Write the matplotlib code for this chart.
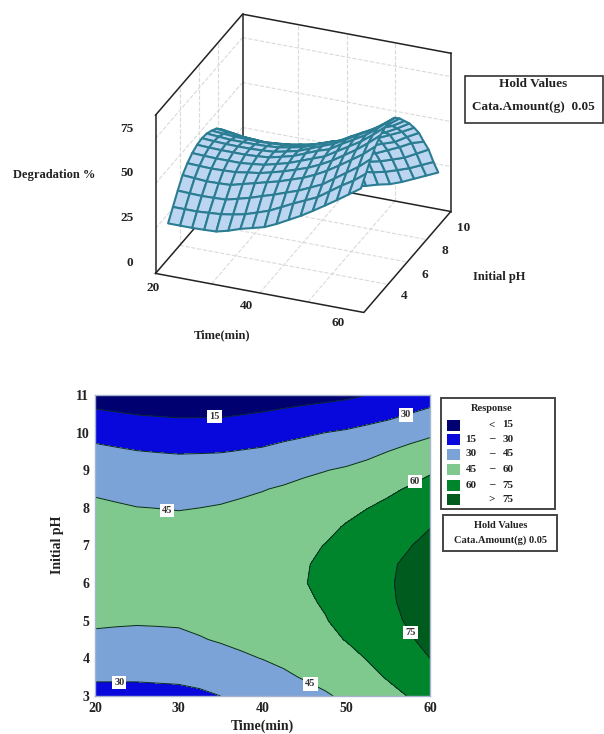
import numpy as np
import matplotlib
matplotlib.use('Agg')
import matplotlib.pyplot as plt
from matplotlib.patches import Rectangle

W, H = 604, 734

## Values
time_min = [20, 22.5, 25, 27.5, 30, 32.5, 35, 37.5, 40, 42.5, 45, 47.5, 50, 52.5, 55, 57.5, 60]
ph_values = [3, 3.5, 4, 4.5, 5, 5.5, 6, 6.5, 7, 7.5, 8, 8.5, 9, 9.5, 10, 10.5, 11]
deg_20 = [25.5, 31.5, 37.5, 43, 46.5, 49, 50.5, 51, 50.5, 49, 47, 43.5, 38, 33, 26, 17.5, 8]
deg_22 = [25.5, 31.5, 37.2, 42.5, 46.2, 48.7, 50.2, 50.6, 50, 48.5, 46.1, 42.5, 37.5, 31.6, 24.7, 16, 6.5]
deg_25 = [25.5, 31.5, 37, 42, 46, 48.5, 50, 50.3, 49.5, 48, 45.2, 41.5, 37, 30.3, 23.5, 14.5, 5]
deg_27 = [25.7, 32, 37.2, 42.2, 46.2, 48.5, 50, 50.2, 49.5, 47.9, 44.9, 41, 36.5, 29.6, 23, 13.7, 4]
deg_30 = [26, 32.5, 37.5, 42.5, 46.5, 48.5, 50, 50.2, 49.5, 47.8, 44.5, 40.5, 36, 29, 22.5, 13, 3]
deg_32 = [27.7, 33.6, 39.2, 44.3, 47.6, 49.2, 50.4, 50.5, 49.8, 48.1, 45, 41.2, 36.2, 29.2, 22.7, 13, 3]
deg_35 = [30, 35, 41, 46, 48.5, 50, 51, 51, 50.3, 48.5, 45.7, 42, 36.5, 29.5, 23, 13, 3]
deg_37 = [31.7, 37.2, 43.2, 47.8, 50.2, 51.7, 52.6, 52.4, 51.6, 49.7, 46.9, 43.2, 37.2, 30.5, 24, 14.5, 4.5]
deg_40 = [33.5, 39.5, 45.3, 49.5, 52, 53.5, 54.3, 54, 53, 51, 48.2, 44.5, 38, 31.5, 25, 16, 6]
deg_42 = [36.5, 42.7, 47.7, 51.8, 54.2, 56, 57, 56.6, 55.5, 53.2, 50.2, 46.2, 40.5, 33.7, 26.5, 18, 7.5]
deg_45 = [40, 46, 50, 54, 56.5, 58.5, 59.7, 59.3, 58, 55.5, 52.5, 48, 43, 36, 28, 20, 9]
deg_47 = [43.5, 49, 53, 57, 59.5, 61, 61.8, 61.8, 60.3, 57.5, 54, 49.5, 44.7, 37.5, 30, 21, 11]
deg_50 = [47.5, 52, 56, 60.5, 63, 65, 66, 65.5, 64, 60.8, 57, 52, 46.5, 39, 31.5, 22.5, 12.5]
deg_52 = [51.7, 56.5, 60.5, 64.7, 67.2, 69, 69.7, 69.2, 67.5, 64.4, 59.8, 55, 48.7, 42, 33.7, 24.7, 15]
deg_55 = [56, 61, 65, 69, 71.5, 73, 73.5, 73, 71, 68, 62.5, 58, 51, 45, 36, 27, 18]
deg_57 = [60.5, 65, 69.5, 73.5, 76.5, 78, 78.5, 77.5, 74.3, 70.5, 66, 61, 55, 48.5, 39.5, 30, 21]
deg_60 = [65, 70, 75, 79, 82, 83.5, 84, 82.5, 79, 74.5, 70, 64.5, 58.5, 50.5, 43, 33, 24]

levels = [0, 15, 30, 45, 60, 75, 100]
band_colors = ['#000070', '#0808dc', '#7ba3d8', '#80c98e', '#00842c', '#005c1e']
band_low = ['', '15', '30', '45', '60', '']
band_sign = ['<', '\u2013', '\u2013', '\u2013', '\u2013', '>']
band_high = ['15', '30', '45', '60', '75', '75']

label_text = ['15', '30', '60', '45', '75', '45', '30']
label_t = [34.3, 57.1, 58.2, 28.6, 57.7, 45.7, 22.9]
label_ph = [10.42, 10.47, 8.7, 7.94, 4.68, 3.32, 3.35]

z_ticks = [0, 25, 50, 75]
time_ticks_3d = [20, 40, 60]
ph_ticks_3d = [4, 6, 8, 10]

z_table = np.array([deg_20, deg_22, deg_25, deg_27, deg_30, deg_32, deg_35, deg_37, deg_40,
					deg_42, deg_45, deg_47, deg_50, deg_52, deg_55, deg_57, deg_60]).T
T, P = np.meshgrid(time_min, ph_values)

plt.rcParams['font.family'] = ['Liberation Serif', 'DejaVu Serif']
plt.rcParams['font.weight'] = 'bold'
plt.rcParams['font.size'] = 9.5
ink = '#222222'

fig = plt.figure(figsize=(W/100, H/100), dpi=100)

def pxtext(x, y, s, **kw):
	## Place text by picture pixel, y counted from the top
	kw.setdefault('ha', 'center')
	kw.setdefault('va', 'center')
	kw.setdefault('color', ink)
	return fig.text(x/W, 1 - y/H, s, **kw)

def pxbox(x0, y0, x1, y1, **kw):
	fig.add_artist(Rectangle((x0/W, 1 - y1/H), (x1 - x0)/W, (y1 - y0)/H,
							 transform=fig.transFigure, **kw))

## Top chart, 3D surface. The box is a bit wider than the surface, as in the picture
S = 420
ax3 = fig.add_axes([87.5/W, (H - (-41 + S))/H, S/W, S/H], projection='3d', proj_type='ortho')
ax3.patch.set_visible(False)
ax3.set_axis_off()
ax3.computed_zorder = False
ax3.view_init(elev=27.8, azim=-68.1)
ax3.set_box_aspect((224.2, 233, 178.7), zoom=0.855)
x0, x1, y0, y1, z0, z1 = 18.4, 61.6, 2.5, 11.5, 0, 88
ax3.set_xlim(x0, x1)
ax3.set_ylim(y0, y1)
ax3.set_zlim(z0, z1)

grid_kw = dict(color='#dadada', lw=0.8, ls='--', zorder=1)
for z in z_ticks[1:]:
	ax3.plot([x0, x1], [y1, y1], [z, z], **grid_kw)
	ax3.plot([x0, x0], [y0, y1], [z, z], **grid_kw)
for t in [30, 40, 50]:
	ax3.plot([t, t], [y1, y1], [z0, z1], **grid_kw)
	ax3.plot([t, t], [y0, y1], [z0, z0], **grid_kw)
for p in [5, 7, 9]:
	ax3.plot([x0, x0], [p, p], [z0, z1], **grid_kw)
	ax3.plot([x0, x1], [p, p], [z0, z0], **grid_kw)

edge_kw = dict(color='#222222', lw=1.1, zorder=2)
ax3.plot([x0, x1, x1, x0, x0], [y0, y0, y1, y1, y0], [z0, z0, z0, z0, z0], **edge_kw)
ax3.plot([x0, x0], [y0, y0], [z0, z1], **edge_kw)
ax3.plot([x0, x0], [y1, y1], [z0, z1], **edge_kw)
ax3.plot([x1, x1], [y1, y1], [z0, z1], **edge_kw)
ax3.plot([x0, x0, x1], [y0, y1, y1], [z1, z1, z1], **edge_kw)

ax3.plot_surface(T, P, z_table, rstride=1, cstride=1, color='#bcd5f0', edgecolor='#2a7d92',
				 linewidth=1.5, shade=False, antialiased=True, zorder=3)

for v, (px, py) in zip(z_ticks, [(130, 263), (127, 218), (127, 173), (127, 129)]):
	pxtext(px, py, str(v))
for v, (px, py) in zip(time_ticks_3d, [(153, 288), (246, 306), (338, 323)]):
	pxtext(px, py, str(v))
for v, (px, py) in zip(ph_ticks_3d, [(404, 296), (425, 275), (445, 251), (464, 228)]):
	pxtext(px, py, str(v))
pxtext(54, 175, 'Degradation %', fontsize=9)
pxtext(222, 335, 'Time(min)', fontsize=9)
pxtext(499, 277, 'Initial pH', fontsize=9)

pxbox(465, 76, 603, 123, fc='white', ec='#333333', lw=1.2)
pxtext(533, 84, 'Hold Values', fontsize=9.5)
pxtext(533, 107, 'Cata.Amount(g)  0.05', fontsize=9.5)

## Bottom chart, filled contours
ax = fig.add_axes([95/W, 1 - 696/H, (430 - 95)/W, (696 - 395)/H])
ax.contourf(T, P, z_table, levels=levels, colors=band_colors)
ax.contour(T, P, z_table, levels=levels[1:-1], colors='#0a2a20', linewidths=0.7)
for s, t, p in zip(label_text, label_t, label_ph):
	ax.text(t, p, s, ha='center', va='center', fontsize=7.5, color='#333333',
			bbox=dict(fc='white', ec='none', pad=1.5))
ax.set_xlim(20, 60)
ax.set_ylim(3, 11)
ax.set_xticks([20, 30, 40, 50, 60])
ax.set_yticks(range(3, 12))
ax.tick_params(length=0, pad=4, labelsize=10, labelcolor=ink)
for sp in ax.spines.values():
	sp.set_color('#a8b4cc')
	sp.set_linewidth(1.0)
pxtext(262, 726, 'Time(min)', fontsize=10)
pxtext(58, 545, 'Initial pH', fontsize=10, rotation=90)

## Legend and hold box drawn by hand
pxbox(441, 398, 555, 509, fc='white', ec='#444444', lw=1.4)
pxtext(492, 409, 'Response', fontsize=7.5)
for i, y in enumerate([425, 439, 454, 469, 485, 499]):
	pxbox(447, y - 5.5, 460, y + 5.5, fc=band_colors[i], ec='none')
	pxtext(471, y, band_low[i], fontsize=8)
	pxtext(492, y, band_sign[i], fontsize=8)
	pxtext(508, y, band_high[i], fontsize=8)
pxbox(443, 515, 557, 551, fc='white', ec='#444444', lw=1.4)
pxtext(501, 526, 'Hold Values', fontsize=7.5)
pxtext(500, 540, 'Cata.Amount(g) 0.05', fontsize=7.5)

fig.savefig('out.png', dpi=100)
